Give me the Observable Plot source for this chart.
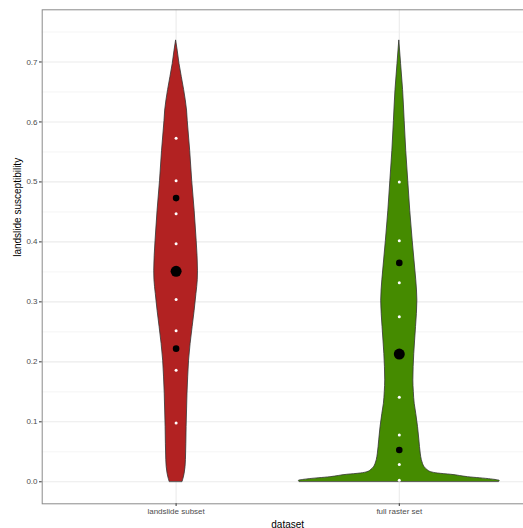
<!DOCTYPE html>
<html>
<head>
<meta charset="utf-8">
<script src="https://cdn.jsdelivr.net/npm/d3@7"></script>
<script src="https://cdn.jsdelivr.net/npm/@observablehq/plot@0.6"></script>
<style>
  html, body { margin: 0; padding: 0; background: #fff; }
  #chart svg { display: block; }
</style>
</head>
<body>
<div id="chart"></div>
<script>
// Categories and fills
const categories = ["landslide subset", "full raster set"];
const fills = ["#B22222", "#458B00"];

// Violin outlines: value (y) and scaled half-width (in category units)
const redV = [0.0, 0.005, 0.013, 0.036, 0.091, 0.147, 0.174, 0.202, 0.230, 0.258, 0.285, 0.313, 0.336, 0.352, 0.402, 0.452, 0.502, 0.552, 0.602, 0.619, 0.653, 0.697, 0.719, 0.736];
const redW = [0.029, 0.033, 0.038, 0.044, 0.047, 0.051, 0.054, 0.058, 0.065, 0.074, 0.083, 0.091, 0.097, 0.098, 0.092, 0.083, 0.072, 0.063, 0.052, 0.049, 0.036, 0.015, 0.007, 0.0];

const greenV = [0.0, 0.0015, 0.004, 0.0077, 0.0117, 0.0138, 0.016, 0.020, 0.024, 0.030, 0.036, 0.047, 0.069, 0.091, 0.113, 0.130, 0.150, 0.169, 0.213, 0.258, 0.302, 0.336, 0.369, 0.402, 0.452, 0.502, 0.552, 0.602, 0.653, 0.697, 0.736];
const greenW = [0.448, 0.450, 0.412, 0.308, 0.233, 0.173, 0.143, 0.125, 0.114, 0.106, 0.101, 0.096, 0.090, 0.084, 0.076, 0.069, 0.065, 0.063, 0.067, 0.075, 0.081, 0.076, 0.068, 0.060, 0.049, 0.040, 0.031, 0.024, 0.017, 0.008, 0.0];

// Deciles (white dots) and quartiles / median (black dots)
const redDeciles = [0.098, 0.186, 0.252, 0.304, 0.351, 0.397, 0.447, 0.502, 0.573];
const redQuartiles = [0.222, 0.473];
const redMedian = 0.351;
const greenDeciles = [0.0027, 0.029, 0.078, 0.141, 0.213, 0.275, 0.332, 0.402, 0.500];
const greenQuartiles = [0.053, 0.365];
const greenMedian = 0.213;

// Axis ticks
const yTicks = [0, 0.1, 0.2, 0.3, 0.4, 0.5, 0.6, 0.7];
const yMinor = [0.05, 0.15, 0.25, 0.35, 0.45, 0.55, 0.65, 0.75];

// Build tables
const violin = [
  ...redV.map((v, i) => ({cat: 1, v, w: redW[i]})),
  ...greenV.map((v, i) => ({cat: 2, v, w: greenW[i]}))
];
const deciles = [
  ...redDeciles.map(v => ({cat: 1, v})),
  ...greenDeciles.map(v => ({cat: 2, v}))
];
const quartiles = [
  ...redQuartiles.map(v => ({cat: 1, v})),
  ...greenQuartiles.map(v => ({cat: 2, v}))
];
const medians = [{cat: 1, v: redMedian}, {cat: 2, v: greenMedian}];

const font = "'Liberation Sans', Arial, Helvetica, sans-serif";

const chart = Plot.plot({
  width: 523,
  height: 528,
  marginLeft: 41.7,
  marginRight: -9.7,
  marginTop: 9.3,
  marginBottom: 24.7,
  style: {fontFamily: font, background: "#fff"},
  x: {domain: [0.4, 2.6], axis: null},
  y: {domain: [-0.0367, 0.787], axis: null},
  color: {domain: [1, 2], range: fills},
  marks: [
    Plot.ruleY(yMinor, {stroke: "#EBEBEB", strokeWidth: 0.55}),
    Plot.ruleY(yTicks, {stroke: "#EBEBEB", strokeWidth: 1.1}),
    Plot.ruleX([1, 2], {stroke: "#EBEBEB", strokeWidth: 1.1}),
    Plot.areaX(violin, {
      y: "v",
      x1: d => d.cat - d.w,
      x2: d => d.cat + d.w,
      z: "cat",
      fill: "cat",
      stroke: "#333333",
      strokeWidth: 0.8,
      curve: "monotone-y"
    }),
    Plot.dot(deciles, {x: "cat", y: "v", r: 1.5, fill: "white", stroke: null}),
    Plot.dot(quartiles, {x: "cat", y: "v", r: 3.3, fill: "black", stroke: null}),
    Plot.dot(medians, {x: "cat", y: "v", r: 5.5, fill: "black", stroke: null}),
    Plot.frame({stroke: "#8a8a8a", strokeWidth: 1}),
    Plot.axisY(yTicks, {
      tickSize: 2.7, tickPadding: 2, fontSize: 8,
      tickFormat: d3.format(".1f"),
      stroke: "#333333", fill: "#4D4D4D", label: null
    }),
    Plot.axisX([1, 2], {
      tickSize: 2.7, tickPadding: 2, fontSize: 8,
      tickFormat: d => categories[d - 1],
      stroke: "#333333", fill: "#4D4D4D", label: null
    }),
    Plot.text(["dataset"], {
      frameAnchor: "bottom", dy: 20.5, fontSize: 10, fill: "black", lineAnchor: "middle"
    }),
    Plot.text(["landslide susceptibility"], {
      frameAnchor: "left", dx: -24.5, rotate: -90, fontSize: 10, fill: "black", lineAnchor: "middle"
    })
  ]
});
document.getElementById("chart").appendChild(chart);
</script>
</body>
</html>
